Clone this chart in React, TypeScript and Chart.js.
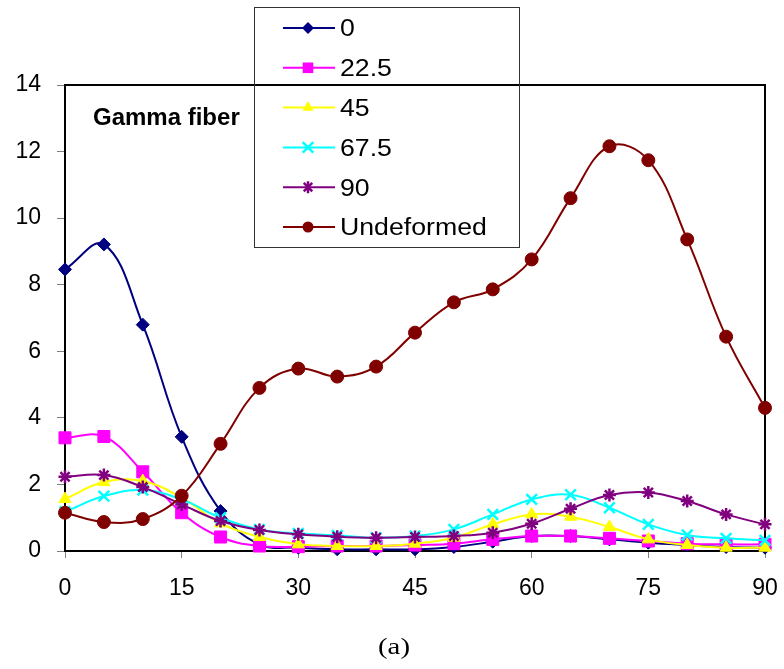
import React, { useEffect, useRef } from 'react';
import { Chart, registerables } from 'chart.js';

Chart.register(...registerables);

const angles = [0, 5, 10, 15, 20, 25, 30, 35, 40, 45, 50, 55, 60, 65, 70, 75, 80, 85, 90];
const xTickStep = 15;
const yTickStep = 2;

const s0 = [8.46, 9.21, 6.8, 3.43, 1.2, 0.2, 0.1, 0.05, 0.05, 0.05, 0.12, 0.28, 0.45, 0.45, 0.35, 0.25, 0.18, 0.12, 0.1];
const s22 = [3.4, 3.44, 2.38, 1.15, 0.42, 0.15, 0.13, 0.15, 0.15, 0.18, 0.22, 0.35, 0.45, 0.45, 0.38, 0.3, 0.22, 0.2, 0.2];
const s45 = [1.56, 2.07, 2.1, 1.6, 0.83, 0.42, 0.2, 0.15, 0.15, 0.22, 0.4, 0.8, 1.1, 1.03, 0.72, 0.35, 0.18, 0.1, 0.1];
const s67 = [1.18, 1.65, 1.83, 1.55, 1.0, 0.65, 0.53, 0.47, 0.4, 0.45, 0.65, 1.1, 1.55, 1.69, 1.3, 0.8, 0.48, 0.38, 0.32];
const s90 = [2.23, 2.28, 1.92, 1.4, 0.9, 0.63, 0.5, 0.43, 0.4, 0.42, 0.45, 0.55, 0.82, 1.27, 1.68, 1.76, 1.5, 1.1, 0.8];
const sU = [1.15, 0.87, 0.96, 1.66, 3.22, 4.9, 5.48, 5.24, 5.54, 6.56, 7.47, 7.86, 8.76, 10.6, 12.16, 11.74, 9.36, 6.44, 4.3];

const seriesNames = ['0', '22.5', '45', '67.5', '90', 'Undeformed'];
const seriesColors = ['#000080', '#FF00FF', '#FFFF00', '#00FFFF', '#800080', '#800000'];
const seriesMarkers = ['rectRot', 'rect', 'triangle', 'crossRot', 'star', 'circle'];
const seriesRadius = [6.5, 8.5, 7, 7.5, 6.5, 6.5];

const annotationText = 'Gamma fiber';
const captionText = '(a)';

function drawMarker(ctx: CanvasRenderingContext2D, style: string, x: number, y: number, r: number, color: string) {
  ctx.save();
  ctx.fillStyle = color;
  ctx.strokeStyle = color;
  ctx.lineWidth = 2.5;
  ctx.beginPath();
  if (style === 'rectRot') {
    ctx.moveTo(x, y - r); ctx.lineTo(x + r, y); ctx.lineTo(x, y + r); ctx.lineTo(x - r, y); ctx.closePath(); ctx.fill();
  } else if (style === 'rect') {
    const s = r * Math.SQRT1_2;
    ctx.rect(x - s, y - s, 2 * s, 2 * s); ctx.fill();
  } else if (style === 'triangle') {
    ctx.moveTo(x, y - r);
    ctx.lineTo(x + r * Math.sin(2 * Math.PI / 3), y - r * Math.cos(2 * Math.PI / 3));
    ctx.lineTo(x + r * Math.sin(4 * Math.PI / 3), y - r * Math.cos(4 * Math.PI / 3));
    ctx.closePath(); ctx.fill();
  } else if (style === 'crossRot') {
    const s = r * Math.SQRT1_2;
    ctx.moveTo(x - s, y - s); ctx.lineTo(x + s, y + s);
    ctx.moveTo(x + s, y - s); ctx.lineTo(x - s, y + s); ctx.stroke();
  } else if (style === 'star') {
    const s = r * Math.SQRT1_2;
    ctx.moveTo(x - s, y - s); ctx.lineTo(x + s, y + s);
    ctx.moveTo(x + s, y - s); ctx.lineTo(x - s, y + s);
    ctx.moveTo(x, y - r); ctx.lineTo(x, y + r); ctx.stroke();
  } else {
    ctx.arc(x, y, r, 0, Math.PI * 2); ctx.fill();
  }
  ctx.restore();
}

const framePlugin = {
  id: 'frame',
  beforeDatasetsDraw(chart: any) {
    const { ctx, chartArea } = chart;
    ctx.save();
    ctx.strokeStyle = '#000';
    ctx.lineWidth = 2;
    ctx.beginPath();
    ctx.moveTo(chartArea.left, chartArea.top);
    ctx.lineTo(chartArea.right, chartArea.top);
    ctx.lineTo(chartArea.right, chartArea.bottom);
    ctx.stroke();
    ctx.restore();
  },
  afterDraw(chart: any) {
    const { ctx } = chart;
    ctx.save();
    ctx.strokeStyle = '#333';
    ctx.lineWidth = 1;
    ctx.strokeRect(254.5, 7.5, 265, 240);
    const legendR = [6, 7.5, 6.5, 7.5, 6, 5.5];
    seriesNames.forEach((name, i) => {
      const y = 28 + i * 39.8;
      ctx.strokeStyle = seriesColors[i];
      ctx.lineWidth = 2;
      ctx.beginPath();
      ctx.moveTo(283, y);
      ctx.lineTo(335, y);
      ctx.stroke();
      drawMarker(ctx, seriesMarkers[i], 308, y, legendR[i], seriesColors[i]);
      ctx.save();
      ctx.fillStyle = '#000';
      ctx.font = '23px "Liberation Sans", Arial, sans-serif';
      ctx.textBaseline = 'middle';
      ctx.textAlign = 'left';
      ctx.translate(340, y + 2);
      ctx.scale(1.16, 1);
      ctx.fillText(name, 0, 0);
      ctx.restore();
    });
    ctx.fillStyle = '#000';
    ctx.font = 'bold 24px "Liberation Sans", Arial, sans-serif';
    ctx.textBaseline = 'alphabetic';
    ctx.textAlign = 'left';
    ctx.fillText(annotationText, 93, 125);
    ctx.save();
    ctx.font = '24px "Liberation Serif", "Times New Roman", serif';
    ctx.textAlign = 'center';
    ctx.textBaseline = 'middle';
    ctx.translate(394, 648);
    ctx.scale(1.2, 1);
    ctx.fillText(captionText, 0, 0);
    ctx.restore();
    ctx.restore();
  },
};

export default function App() {
  const ref = useRef<HTMLCanvasElement>(null);
  useEffect(() => {
    const canvas = ref.current;
    if (!canvas) return;
    const values = [s0, s22, s45, s67, s90, sU];
    const datasets = values.map((vals, i) => ({
      label: seriesNames[i],
      data: angles.map((a, j) => ({ x: a, y: vals[j] })),
      borderColor: seriesColors[i],
      backgroundColor: seriesColors[i],
      pointBackgroundColor: seriesColors[i],
      pointBorderColor: seriesColors[i],
      pointStyle: seriesMarkers[i],
      pointRadius: seriesRadius[i],
      pointBorderWidth: seriesMarkers[i] === 'crossRot' || seriesMarkers[i] === 'star' ? 2.5 : 1,
      borderWidth: 2,
      tension: 0.4,
      order: 6 - i,
      clip: false as any,
    }));
    const chart = new Chart(canvas, {
      type: 'line',
      data: { datasets },
      options: {
        animation: false,
        responsive: false,
        devicePixelRatio: 1,
        layout: { padding: { left: 0, right: 19, top: 85, bottom: 68 } },
        plugins: { legend: { display: false }, tooltip: { enabled: false } },
        scales: {
          x: {
            type: 'linear',
            min: 0,
            max: 90,
            ticks: { stepSize: xTickStep, color: '#000', padding: 6, font: { family: '"Liberation Sans", Arial', size: 23, lineHeight: 2.17 } },
            grid: { drawOnChartArea: false, drawTicks: true, tickLength: 7, color: '#808080' },
            border: { display: true, color: '#000', width: 2 },
            afterFit: (s: any) => { s.height = 50; },
          },
          y: {
            min: 0,
            max: 14,
            ticks: { stepSize: yTickStep, color: '#000', padding: 16, font: { family: '"Liberation Sans", Arial', size: 23 } },
            grid: { drawOnChartArea: false, drawTicks: true, tickLength: 8, color: '#808080' },
            border: { display: true, color: '#000', width: 2 },
            afterFit: (s: any) => { s.width = 65; },
          },
        },
      },
      plugins: [framePlugin],
    } as any);
    return () => chart.destroy();
  }, []);
  return (
    <div style={{ position: 'fixed', left: 0, top: 0, width: 784, height: 669, background: '#fff' }}>
      <canvas ref={ref} width={784} height={669} />
    </div>
  );
}
